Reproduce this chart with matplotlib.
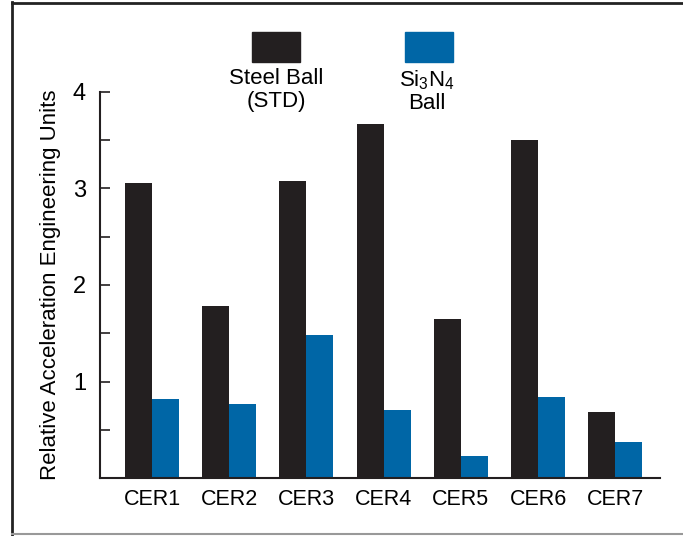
import numpy as np
import matplotlib
matplotlib.use("Agg")
import matplotlib.pyplot as plt
from matplotlib.lines import Line2D
from matplotlib.patches import Rectangle

plt.rcParams['font.family'] = ['Liberation Sans Narrow', 'Liberation Sans', 'DejaVu Sans']
plt.rcParams['mathtext.fontset'] = 'custom'
plt.rcParams['mathtext.rm'] = 'Liberation Sans'

samples = ["CER1", "CER2", "CER3", "CER4", "CER5", "CER6", "CER7"]
steel = [3.06, 1.78, 3.08, 3.67, 1.65, 3.50, 0.68]
si3n4 = [0.82, 0.77, 1.48, 0.70, 0.23, 0.84, 0.37]

black = "#231f20"
blue = "#0066a6"

fig = plt.figure(figsize=(6.83, 5.36), dpi=100)
ax = fig.add_axes([100/683, 1-478/536, 560/683, 386/536])

x = np.arange(len(samples))
w = 0.35
ax.bar(x - w/2, steel, w, color=black)
ax.bar(x + w/2, si3n4, w, color=blue)

ax.set_xlim(-0.674, 6.58)
ax.set_ylim(0, 4)
ax.set_yticks([1, 2, 3, 4])
ax.set_yticks([0.5, 1.5, 2.5, 3.5], minor=True)
ax.set_xticks(x)
ax.set_xticklabels(samples, fontsize=15.5)
ax.tick_params(axis='x', length=0, pad=8)
ax.tick_params(axis='y', which='both', direction='in', length=7, width=1.2,
               color=black, pad=10, labelsize=17)
for s in ['top', 'right']:
    ax.spines[s].set_visible(False)
for s in ['left', 'bottom']:
    ax.spines[s].set_color(black)
    ax.spines[s].set_linewidth(1.5)

fig.text(51/683, 1-285/536, "Relative Acceleration Engineering Units",
         rotation=90, ha='center', va='center', fontsize=16)

# legend
fig.patches.append(Rectangle((252/683, 1-62/536), 48/683, 30/536,
                             transform=fig.transFigure, color=black))
fig.patches.append(Rectangle((405/683, 1-62/536), 48/683, 30/536,
                             transform=fig.transFigure, color=blue))
fig.text(276/683, 1-68/536, "Steel Ball\n(STD)", ha='center', va='top',
         fontsize=16, linespacing=1.1)
fig.text(427/683, 1-68/536, r"Si$_3$N$_4$" + "\nBall", ha='center', va='top',
         fontsize=16, linespacing=1.1)

# frame
fig.add_artist(Line2D([12/683, 12/683], [0, 1-2/536], color="#222222", lw=2,
                      transform=fig.transFigure))
fig.add_artist(Line2D([12/683, 1], [1-3/536, 1-3/536], color="#222222", lw=2,
                      transform=fig.transFigure))
fig.add_artist(Line2D([12/683, 1], [1-534/536, 1-534/536], color="#999999", lw=1.5,
                      transform=fig.transFigure))

fig.savefig("out.png", dpi=100)
